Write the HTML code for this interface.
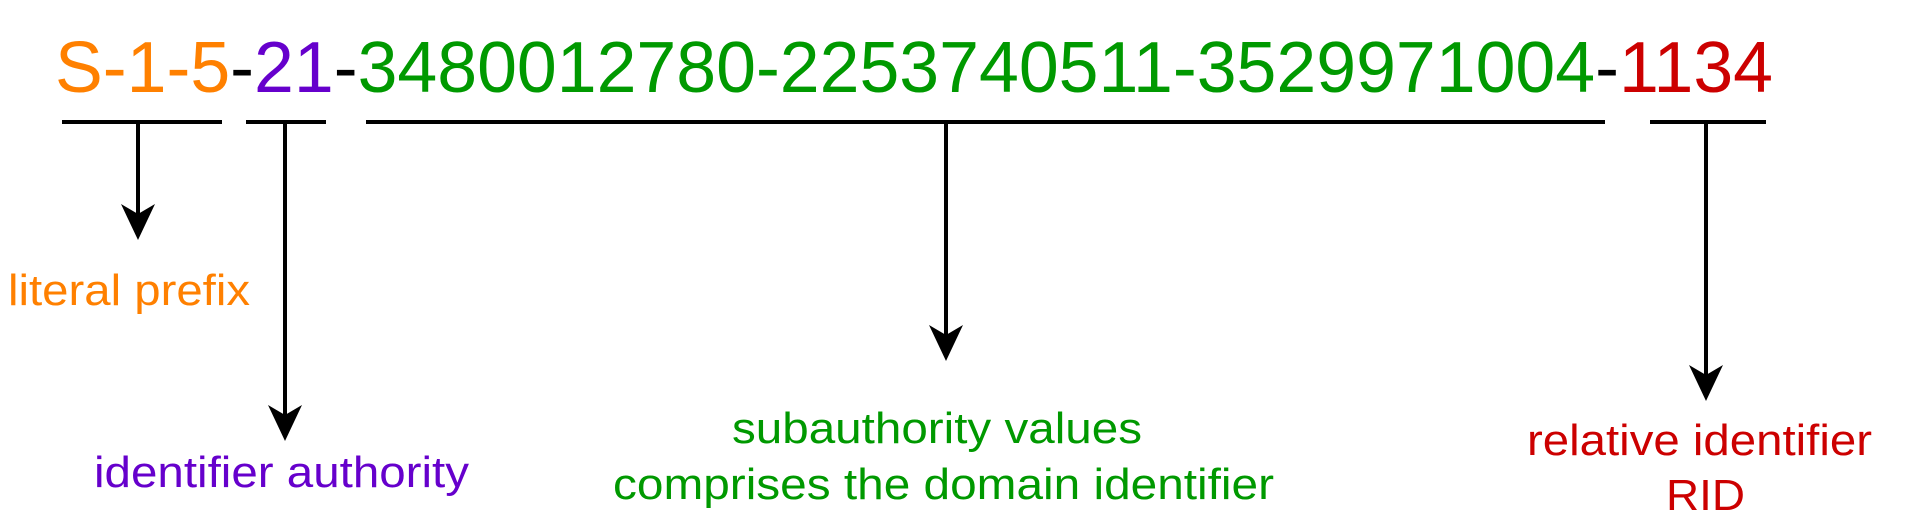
<!DOCTYPE html>
<html><head><meta charset="utf-8"><style>html,body{margin:0;padding:0;background:#fff;width:1932px;height:528px;overflow:hidden}</style></head>
<body>
<svg width="1932" height="528" xmlns="http://www.w3.org/2000/svg" font-family="Liberation Sans, Arial, sans-serif">
<text x="55" y="92" font-size="72" textLength="1718" lengthAdjust="spacingAndGlyphs"><tspan fill="#FF8000">S-1-5</tspan><tspan fill="#000">-</tspan><tspan fill="#6600CC">21</tspan><tspan fill="#000">-</tspan><tspan fill="#009900">3480012780-2253740511-3529971004</tspan><tspan fill="#000">-</tspan><tspan fill="#CC0000">1134</tspan></text>
<g stroke="#000" stroke-width="4">
<line x1="62" y1="122" x2="222" y2="122"/>
<line x1="246" y1="122" x2="326" y2="122"/>
<line x1="366" y1="122" x2="1605" y2="122"/>
<line x1="1650" y1="122" x2="1766" y2="122"/>
<line x1="138" y1="122" x2="138" y2="225"/>
<line x1="285" y1="122" x2="285" y2="425"/>
<line x1="946" y1="122" x2="946" y2="345"/>
<line x1="1706" y1="122" x2="1706" y2="385"/>
</g>
<g fill="#000">
<path d="M138 240 L121 204 L138 214 L155 204 Z"/>
<path d="M285 441 L268 405 L285 415 L302 405 Z"/>
<path d="M946 361 L929 325 L946 335 L963 325 Z"/>
<path d="M1706 401 L1689 365 L1706 375 L1723 365 Z"/>
</g>
<g font-size="44">
<text x="8" y="305" fill="#FF8000" textLength="242" lengthAdjust="spacingAndGlyphs">literal prefix</text>
<text x="94" y="487" fill="#6600CC" textLength="375" lengthAdjust="spacingAndGlyphs">identifier authority</text>
<text x="732" y="443" fill="#009900" textLength="410" lengthAdjust="spacingAndGlyphs">subauthority values</text>
<text x="613" y="499" fill="#009900" textLength="661" lengthAdjust="spacingAndGlyphs">comprises the domain identifier</text>
<text x="1527" y="455" fill="#CC0000" textLength="345" lengthAdjust="spacingAndGlyphs">relative identifier</text>
<text x="1666" y="510" fill="#CC0000" textLength="79" lengthAdjust="spacingAndGlyphs">RID</text>
</g>
</svg>
</body></html>
